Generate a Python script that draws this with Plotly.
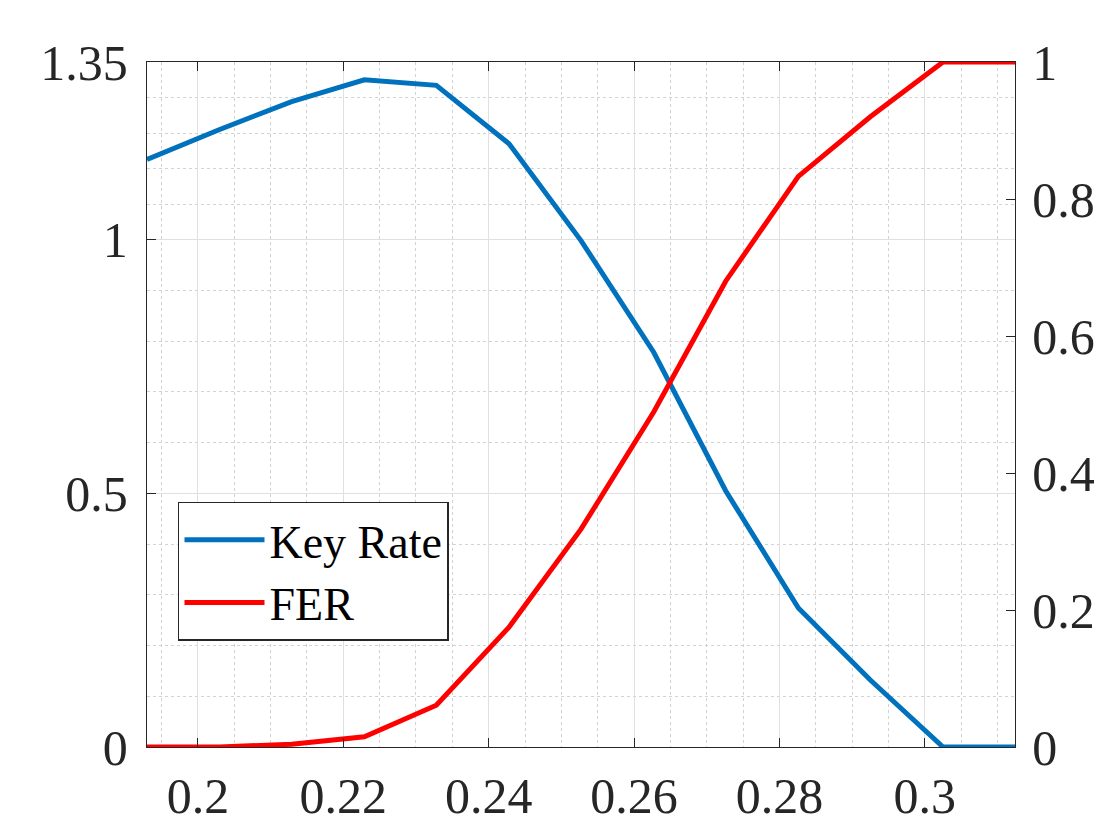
import plotly.graph_objects as go

# Data
p_values = [0.1930, 0.2030, 0.2129, 0.2229, 0.2328, 0.2428, 0.2527,
            0.2627, 0.2726, 0.2826, 0.2925, 0.3025, 0.3124]
key_rate = [1.158, 1.217, 1.272, 1.315, 1.304, 1.189, 0.998,
            0.778, 0.505, 0.274, 0.132, 0.0, 0.0]
fer = [0.0, 0.0, 0.004, 0.015, 0.061, 0.175, 0.318,
       0.489, 0.680, 0.833, 0.920, 1.0, 1.0]

x_ticks = [0.2, 0.22, 0.24, 0.26, 0.28, 0.3]
x_tick_text = ["0.2", "0.22", "0.24", "0.26", "0.28", "0.3"]
x_minor = [0.195, 0.205, 0.21, 0.215, 0.225, 0.23, 0.235, 0.245, 0.25, 0.255,
           0.265, 0.27, 0.275, 0.285, 0.29, 0.295, 0.305, 0.31]
y_left_ticks = [0, 0.5, 1, 1.35]
y_left_text = ["0", "0.5", "1", "1.35"]
y_left_minor = [0.1, 0.2, 0.3, 0.4, 0.6, 0.7, 0.8, 0.9, 1.07, 1.14, 1.21, 1.28]
y_right_ticks = [0, 0.2, 0.4, 0.6, 0.8, 1]
y_right_text = ["0", "0.2", "0.4", "0.6", "0.8", "1"]

BLUE = "#0072BD"
RED = "#FF0000"
TXT = "#262626"
FONT = "Liberation Serif"

fig = go.Figure()
fig.add_trace(go.Scatter(x=p_values, y=key_rate, mode="lines", name="Key Rate",
                         line=dict(color=BLUE, width=5), yaxis="y"))
fig.add_trace(go.Scatter(x=p_values, y=fer, mode="lines", name="FER",
                         line=dict(color=RED, width=5), yaxis="y2"))

fig.update_layout(
    width=1112, height=832,
    paper_bgcolor="white", plot_bgcolor="white",
    margin=dict(l=139, r=105, t=54, b=93),
    font=dict(family=FONT, color=TXT, size=50),
    showlegend=True,
    legend=dict(x=0.0357, y=0.358, xanchor="left", yanchor="top",
                bgcolor="white", bordercolor="#262626", borderwidth=1.5,
                font=dict(family=FONT, size=46, color="black"),
                itemwidth=80, tracegroupgap=0),
    xaxis=dict(range=[0.193, 0.3124], tickvals=x_ticks, ticktext=x_tick_text,
               ticks="inside", ticklen=9, tickwidth=1.3, tickcolor=TXT,
               showline=True, linecolor=TXT, linewidth=1.3, mirror="ticks",
               showgrid=True, gridcolor="#e0e0e0", gridwidth=1,
               zeroline=False, ticklabelstandoff=5,
               tickfont=dict(family=FONT, size=50, color=TXT),
               minor=dict(tickvals=x_minor, showgrid=True, gridcolor="#d2d2d2",
                          griddash="dot", gridwidth=1, ticks="")),
    yaxis=dict(range=[0, 1.35], tickvals=y_left_ticks, ticktext=y_left_text,
               ticks="inside", ticklen=9, tickwidth=1.3, tickcolor=TXT,
               showline=True, linecolor=TXT, linewidth=1.3,
               showgrid=True, gridcolor="#e0e0e0", gridwidth=1,
               zeroline=False, ticklabelstandoff=8,
               tickfont=dict(family=FONT, size=50, color=TXT),
               minor=dict(tickvals=y_left_minor, showgrid=True, gridcolor="#d2d2d2",
                          griddash="dot", gridwidth=1, ticks="")),
    yaxis2=dict(range=[0, 1], tickvals=y_right_ticks, ticktext=y_right_text,
                overlaying="y", side="right",
                ticks="inside", ticklen=9, tickwidth=1.3, tickcolor=TXT,
                showline=True, linecolor=TXT, linewidth=1.3,
                showgrid=False, zeroline=False, ticklabelstandoff=6,
                tickfont=dict(family=FONT, size=50, color=TXT)),
)

fig.write_html("out.html")
